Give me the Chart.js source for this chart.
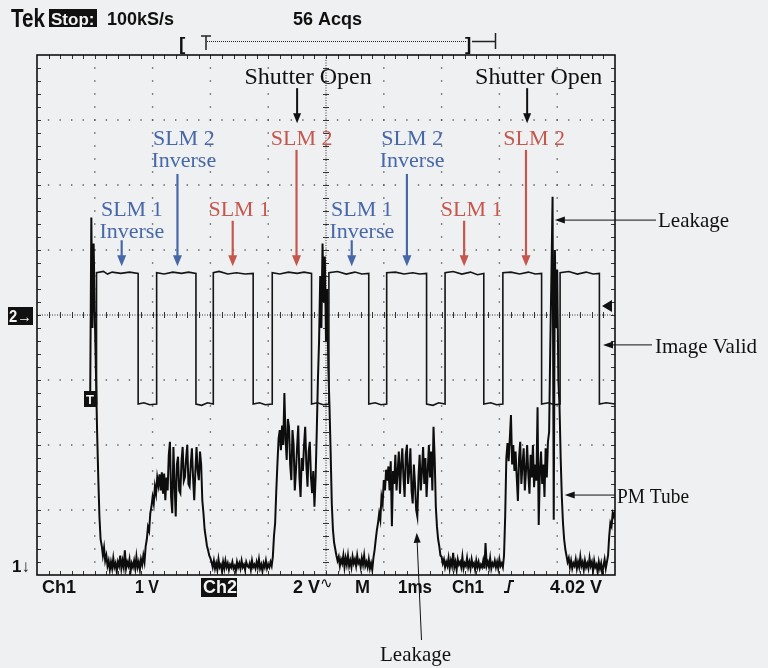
<!DOCTYPE html>
<html>
<head>
<meta charset="utf-8">
<title>Tek scope capture</title>
<script src="https://cdn.jsdelivr.net/npm/chart.js@4.4.0/dist/chart.umd.min.js"></script>
<style>
  html, body { margin: 0; padding: 0; background: #eff0f2; }
  canvas { display: block; }
</style>
</head>
<body>
<canvas id="scope" width="768" height="668"></canvas>
<script>
// 1 ms/div, 10 div across, 8 div high. Traces are kept in screen divisions.
const HI = 4.65, LO = 2.63;

// Ch2 : "Image Valid" square wave  [ms, div]
const imageValid = [
  [0.92, LO],
  [1.03, LO], [1.03, HI], [1.15, 4.67], [1.22, 4.63], [1.30, 4.66], [1.45, 4.64], [1.60, 4.66], [1.75, 4.64],
  [1.75, LO], [1.85, 2.65], [1.95, 2.62], [2.07, LO],
  [2.07, HI], [2.20, 4.63], [2.35, 4.66], [2.50, 4.64], [2.62, 4.66], [2.75, 4.64],
  [2.75, LO], [2.85, 2.61], [2.95, 2.65], [3.05, LO],
  [3.05, HI], [3.15, 4.67], [3.30, 4.63], [3.45, 4.65], [3.60, 4.63], [3.74, 4.64],
  [3.74, LO], [3.85, 2.65], [3.95, 2.62], [4.07, LO],
  [4.07, HI], [4.20, 4.63], [4.35, 4.66], [4.50, 4.64], [4.62, 4.66], [4.75, 4.64],
  [4.75, LO], [4.85, 2.65], [4.95, 2.62], [5.05, LO],
  [5.05, HI], [5.20, 4.67], [5.35, 4.63], [5.50, 4.66], [5.62, 4.63], [5.74, 4.64],
  [5.74, LO], [5.85, 2.65], [5.95, 2.62], [6.05, LO],
  [6.05, HI], [6.20, 4.66], [6.35, 4.63], [6.50, 4.65], [6.62, 4.63], [6.74, 4.64],
  [6.74, LO], [6.85, 2.61], [6.95, 2.65], [7.06, LO],
  [7.06, HI], [7.20, 4.67], [7.35, 4.63], [7.50, 4.66], [7.62, 4.62], [7.73, 4.64],
  [7.73, LO], [7.85, 2.65], [7.95, 2.62], [8.06, LO],
  [8.06, HI], [8.20, 4.66], [8.35, 4.63], [8.50, 4.66], [8.62, 4.63], [8.73, 4.64],
  [8.73, LO], [8.85, 2.65], [8.95, 2.62], [9.05, LO],
  [9.05, HI], [9.20, 4.67], [9.35, 4.63], [9.50, 4.66], [9.62, 4.63], [9.73, 4.64],
  [9.73, LO], [9.85, 2.65], [10.0, LO]
];

// Ch1 : PM tube, one sample every 20 us; each row = [start ms, samples]
const SAMPLE_MS = 0.02;
const pmTube = [
  [0.92, [2.7, 5.5, 3.8, 5.1, 4.0, 3.1, 2.2, 1.5, 0.9, 0.55]],
  [1.12, [0.45, 0.3, 0.42, 0.22, 0.3, 0.14, 0.22, 0.08, 0.2, 0.1]],
  [1.32, [0.26, 0.12, 0.18, 0.05, 0.2, 0.14, 0.3, 0.1, 0.22, 0.12]],
  [1.52, [0.38, 0.1, 0.2, 0.14, 0.24, 0.06, 0.18, 0.12, 0.22, 0.1]],
  [1.72, [0.28, 0.12, 0.2, 0.08, 0.24, 0.16, 0.3, 0.2, 0.44, 0.55]],
  [1.92, [0.74, 0.68, 0.95, 1.05, 1.2, 1.1, 1.36, 1.25, 1.5, 1.38]],
  [2.12, [1.55, 1.3, 1.58, 1.25, 1.56, 1.15, 1.5, 1.3, 1.85, 2.05]],
  [2.32, [1.2, 0.95, 1.97, 1.4, 0.9, 1.7, 1.82, 1.3, 1.26, 1.75]],
  [2.52, [1.97, 1.45, 1.51, 1.8, 2.0, 1.4, 1.36, 1.7, 1.95, 1.5]],
  [2.72, [1.15, 1.6, 1.97, 1.6, 1.46, 1.9, 1.7, 1.15, 0.95, 0.7]],
  [2.92, [0.58, 0.45, 0.38, 0.3, 0.26, 0.2, 0.12, 0.22, 0.1, 0.18]],
  [3.12, [0.08, 0.24, 0.12, 0.16, 0.06, 0.2, 0.1, 0.22, 0.12, 0.18]],
  [3.32, [0.08, 0.16, 0.12, 0.2, 0.1, 0.14, 0.06, 0.2, 0.12, 0.18]],
  [3.52, [0.1, 0.22, 0.12, 0.16, 0.08, 0.2, 0.14, 0.12, 0.18, 0.08]],
  [3.72, [0.22, 0.12, 0.16, 0.1, 0.2, 0.12, 0.24, 0.1, 0.16, 0.06]],
  [3.92, [0.18, 0.12, 0.22, 0.1, 0.16, 0.12, 0.2, 0.14, 0.28, 0.6]],
  [4.12, [0.8, 1.3, 1.72, 2.1, 2.23, 1.92, 2.3, 2.0, 2.8, 2.1]],
  [4.32, [1.77, 2.4, 2.28, 1.7, 1.46, 2.23, 2.0, 1.3, 1.6, 1.97]],
  [4.52, [2.3, 1.5, 1.2, 1.8, 1.6, 2.0, 2.28, 1.7, 1.36, 1.9]],
  [4.72, [2.05, 1.5, 1.26, 1.6, 1.05, 1.5, 2.2, 3.0, 3.6, 4.6]],
  [4.92, [3.8, 5.1, 4.2, 4.9, 3.6, 4.4, 3.2, 2.6, 1.9, 1.1]],
  [5.12, [0.7, 0.5, 0.4, 0.3, 0.22, 0.28, 0.14, 0.24, 0.18, 0.3]],
  [5.32, [0.12, 0.26, 0.16, 0.3, 0.14, 0.22, 0.12, 0.28, 0.18, 0.24]],
  [5.52, [0.14, 0.3, 0.18, 0.22, 0.12, 0.26, 0.16, 0.3, 0.14, 0.2]],
  [5.72, [0.12, 0.24, 0.1, 0.18, 0.08, 0.26, 0.38, 0.54, 0.69, 0.8]],
  [5.92, [0.95, 0.85, 1.2, 1.1, 1.46, 1.3, 1.62, 1.45, 1.67, 1.3]],
  [6.12, [1.75, 0.75, 1.6, 1.4, 1.85, 1.3, 1.6, 1.9, 1.25, 1.7]],
  [6.32, [1.95, 1.5, 1.2, 1.85, 2.0, 1.4, 1.6, 1.95, 1.3, 1.1]],
  [6.52, [1.7, 1.4, 1.0, 0.9, 1.5, 1.85, 1.3, 1.6, 1.97, 1.4]],
  [6.72, [1.8, 1.2, 1.6, 2.0, 1.5, 1.9, 1.3, 2.28, 1.8, 1.05]],
  [6.92, [0.74, 0.55, 0.44, 0.3, 0.28, 0.18, 0.24, 0.12, 0.2, 0.14]],
  [7.12, [0.26, 0.1, 0.22, 0.14, 0.34, 0.12, 0.2, 0.08, 0.24, 0.16]],
  [7.32, [0.2, 0.12, 0.28, 0.1, 0.18, 0.14, 0.26, 0.12, 0.2, 0.1]],
  [7.52, [0.24, 0.14, 0.18, 0.08, 0.22, 0.12, 0.2, 0.1, 0.16, 0.12]],
  [7.72, [0.22, 0.1, 0.49, 0.14, 0.2, 0.12, 0.26, 0.1, 0.18, 0.14]],
  [7.92, [0.22, 0.12, 0.2, 0.1, 0.24, 0.14, 0.18, 0.12, 0.3, 0.9]],
  [8.12, [1.8, 2.03, 1.75, 2.1, 2.46, 1.7, 2.0, 1.6, 1.9, 1.5]],
  [8.32, [1.14, 1.8, 2.05, 1.4, 1.7, 1.95, 1.3, 1.6, 2.0, 1.55]],
  [8.52, [1.25, 1.85, 1.5, 2.0, 1.35, 1.7, 1.45, 2.58, 0.77, 1.6]],
  [8.72, [1.9, 1.4, 1.7, 1.2, 1.95, 1.5, 2.05, 2.2, 3.5, 4.6]],
  [8.92, [5.82, 0.85, 5.0, 3.8, 4.7, 3.0, 2.6, 1.8, 1.2, 0.8]],
  [9.12, [0.55, 0.4, 0.3, 0.2, 0.26, 0.12, 0.22, 0.1, 0.18, 0.14]],
  [9.32, [0.24, 0.1, 0.2, 0.12, 0.28, 0.14, 0.2, 0.08, 0.22, 0.12]],
  [9.52, [0.18, 0.1, 0.26, 0.14, 0.2, 0.06, 0.22, 0.12, 0.16, 0.04]],
  [9.72, [0.2, 0.1, 0.18, 0.02, 0.14, 0.24, 0.1, 0.2, 0.3, 0.6]],
  [9.92, [0.8, 0.75, 0.95, 0.9, 1.0]]
];

// colour callouts  [text lines, colour, label centre ms, arrow ms, arrow top div, first baseline div]
const BLUE = '#4768a8', RED = '#c5574d';
const callouts = [
  [['SLM 1', 'Inverse'], BLUE, 1.64, 1.465, 5.15, 5.52],
  [['SLM 2', 'Inverse'], BLUE, 2.54, 2.43, 6.17, 6.62],
  [['SLM 1'], RED, 3.50, 3.386, 5.45, 5.52],
  [['SLM 2'], RED, 4.58, 4.49, 6.54, 6.62],
  [['SLM 1', 'Inverse'], BLUE, 5.62, 5.445, 5.15, 5.52],
  [['SLM 2', 'Inverse'], BLUE, 6.49, 6.40, 6.17, 6.62],
  [['SLM 1'], RED, 7.52, 7.39, 5.45, 5.52],
  [['SLM 2'], RED, 8.60, 8.46, 6.54, 6.62]
];
const shutterOpen = [[4.69, 4.50], [8.68, 8.48]];

const SERIF = '"Liberation Serif", "Times New Roman", serif';
const SANS = '"Liberation Sans", Arial, sans-serif';

function toPoints(pairs) {
  return pairs.map(function(p) { return {x: p[0], y: p[1]}; });
}
var pmPoints = [];
pmTube.forEach(function(row) {
  row[1].forEach(function(v, i) {
    pmPoints.push({x: +(row[0] + i * SAMPLE_MS).toFixed(2), y: v});
  });
});

function arrow(ctx, x1, y1, x2, y2, color, lw, len, half) {
  var ang = Math.atan2(y2 - y1, x2 - x1);
  ctx.strokeStyle = color;
  ctx.fillStyle = color;
  ctx.lineWidth = lw;
  ctx.beginPath();
  ctx.moveTo(x1, y1);
  ctx.lineTo(x2 - Math.cos(ang) * len * 0.6, y2 - Math.sin(ang) * len * 0.6);
  ctx.stroke();
  ctx.beginPath();
  ctx.moveTo(x2, y2);
  ctx.lineTo(x2 - Math.cos(ang) * len - Math.sin(ang) * half, y2 - Math.sin(ang) * len + Math.cos(ang) * half);
  ctx.lineTo(x2 - Math.cos(ang) * len + Math.sin(ang) * half, y2 - Math.sin(ang) * len - Math.cos(ang) * half);
  ctx.closePath();
  ctx.fill();
}

function boxText(ctx, txt, x, y, w, h, font, tx, ty) {
  ctx.fillStyle = '#111';
  ctx.fillRect(x, y, w, h);
  ctx.fillStyle = '#f4f4f4';
  ctx.font = font;
  ctx.fillText(txt, tx, ty, w - 2);
}

// scope graticule: dotted divisions, ticked centre axes, ticked frame
const graticule = {
  id: 'graticule',
  beforeDatasetsDraw(chart) {
    const ctx = chart.ctx, a = chart.chartArea;
    const sx = chart.scales.x, sy = chart.scales.y;
    ctx.save();
    ctx.fillStyle = '#555';
    for (let i = 1; i < 10; i++) {
      if (i === 5) continue;
      const px = sx.getPixelForValue(i);
      for (let j = 1; j < 40; j++) {
        ctx.fillRect(px - 0.7, sy.getPixelForValue(j * 0.2) - 0.7, 1.4, 1.4);
      }
    }
    for (let j = 1; j < 8; j++) {
      if (j === 4) continue;
      const py = sy.getPixelForValue(j);
      for (let i = 1; i < 50; i++) {
        ctx.fillRect(sx.getPixelForValue(i * 0.2) - 0.7, py - 0.7, 1.4, 1.4);
      }
    }
    // centre axes
    const cx = sx.getPixelForValue(5), cy = sy.getPixelForValue(4);
    ctx.strokeStyle = '#333';
    ctx.lineWidth = 1;
    ctx.setLineDash([1, 1.5]);
    ctx.beginPath();
    ctx.moveTo(a.left, cy); ctx.lineTo(a.right, cy);
    ctx.moveTo(cx, a.top); ctx.lineTo(cx, a.bottom);
    ctx.stroke();
    ctx.setLineDash([]);
    ctx.beginPath();
    for (let i = 1; i < 50; i++) {
      const px = Math.round(sx.getPixelForValue(i * 0.2)) + 0.5;
      ctx.moveTo(px, cy - 3); ctx.lineTo(px, cy + 3);
    }
    for (let j = 1; j < 40; j++) {
      const py = Math.round(sy.getPixelForValue(j * 0.2)) + 0.5;
      ctx.moveTo(cx - 3, py); ctx.lineTo(cx + 3, py);
    }
    // frame ticks
    for (let i = 1; i < 50; i++) {
      const px = Math.round(sx.getPixelForValue(i * 0.2)) + 0.5;
      ctx.moveTo(px, a.top); ctx.lineTo(px, a.top + 4);
      ctx.moveTo(px, a.bottom); ctx.lineTo(px, a.bottom - 4);
    }
    for (let j = 1; j < 40; j++) {
      const py = Math.round(sy.getPixelForValue(j * 0.2)) + 0.5;
      ctx.moveTo(a.left, py); ctx.lineTo(a.left + 4, py);
      ctx.moveTo(a.right, py); ctx.lineTo(a.right - 4, py);
    }
    ctx.stroke();
    ctx.strokeStyle = '#111';
    ctx.lineWidth = 1.6;
    ctx.strokeRect(a.left, a.top, a.right - a.left, a.bottom - a.top);
    ctx.restore();
  }
};

// readouts around the screen and the hand-drawn callouts
const readouts = {
  id: 'readouts',
  afterDatasetsDraw(chart) {
    const ctx = chart.ctx;
    const sx = chart.scales.x, sy = chart.scales.y;
    const X = function(v) { return sx.getPixelForValue(v); };
    const Y = function(v) { return sy.getPixelForValue(v); };
    ctx.save();
    ctx.textBaseline = 'alphabetic';

    // top status line
    ctx.fillStyle = '#111';
    ctx.font = 'bold 25px ' + SANS;
    ctx.fillText('Tek', 11, 27, 34);
    boxText(ctx, 'Stop:', 49, 9, 48, 18, 'bold 17px ' + SANS, 51, 25);
    ctx.fillStyle = '#111';
    ctx.font = 'bold 18px ' + SANS;
    ctx.fillText('100kS/s', 107, 25, 75);
    ctx.fillText('56 Acqs', 293, 25, 70);

    // record window bar
    ctx.font = 'bold 19px ' + SANS;
    ctx.fillText('[', 179, 50);
    ctx.fillText(']', 465, 50);
    ctx.strokeStyle = '#222';
    ctx.lineWidth = 1.5;
    ctx.beginPath();
    ctx.moveTo(201, 36); ctx.lineTo(211, 36);
    ctx.moveTo(206, 36); ctx.lineTo(206, 50);
    ctx.moveTo(472, 41.5); ctx.lineTo(495, 41.5);
    ctx.moveTo(495.5, 33); ctx.lineTo(495.5, 49);
    ctx.stroke();
    ctx.lineWidth = 1;
    ctx.setLineDash([1, 1]);
    ctx.beginPath();
    ctx.moveTo(207, 41.5); ctx.lineTo(466, 41.5);
    ctx.stroke();
    ctx.setLineDash([]);

    // channel markers on the left
    boxText(ctx, '2\u2192', 8, 307, 25, 18, 'bold 16px ' + SANS, 9, 322);
    boxText(ctx, 'T', 84, 391, 13, 16, 'bold 13px ' + SANS, 86, 404);
    ctx.fillStyle = '#111';
    ctx.font = 'bold 17px ' + SANS;
    ctx.fillText('1\u2193', 12, 572);

    // trigger level marker on the right edge
    ctx.beginPath();
    ctx.moveTo(602, 306); ctx.lineTo(612, 300); ctx.lineTo(612, 312);
    ctx.closePath();
    ctx.fill();

    // bottom readout
    ctx.font = 'bold 18px ' + SANS;
    ctx.fillText('Ch1', 42, 593, 34);
    ctx.fillText('1 V', 135, 593, 24);
    boxText(ctx, 'Ch2', 201, 578, 36, 19, 'bold 18px ' + SANS, 203, 593);
    ctx.fillStyle = '#111';
    ctx.font = 'bold 18px ' + SANS;
    ctx.fillText('2 V', 293, 593, 28);
    ctx.fillText('M', 355, 593, 16);
    ctx.fillText('1ms', 398, 593, 34);
    ctx.fillText('Ch1', 452, 593, 32);
    ctx.fillText('4.02 V', 550, 593, 60);
    ctx.font = '15px "DejaVu Sans", sans-serif';
    ctx.fillText('\u223F', 320, 588);
    ctx.strokeStyle = '#111';
    ctx.lineWidth = 2;
    ctx.beginPath();
    ctx.moveTo(504, 592); ctx.lineTo(508, 592);
    ctx.lineTo(510, 581); ctx.lineTo(514, 581);
    ctx.stroke();

    // shutter callouts
    ctx.textAlign = 'center';
    ctx.font = '24px ' + SERIF;
    shutterOpen.forEach(function(s) {
      ctx.fillStyle = '#111';
      ctx.fillText('Shutter Open', X(s[0]), Y(7.55));
      arrow(ctx, X(s[1]), Y(7.49), X(s[1]), Y(6.95), '#111', 2, 10, 4);
    });

    // SLM callouts
    ctx.font = '22px ' + SERIF;
    callouts.forEach(function(c) {
      ctx.fillStyle = c[1];
      c[0].forEach(function(line, k) {
        ctx.fillText(line, X(c[2]), Y(c[5]) + k * 22);
      });
      arrow(ctx, X(c[3]), Y(c[4]), X(c[3]), Y(4.75), c[1], 2.2, 11, 4.5);
    });

    // trace labels on the right
    ctx.textAlign = 'left';
    ctx.fillStyle = '#111';
    ctx.font = '21px ' + SERIF;
    ctx.fillText('Leakage', 658, Y(5.46) + 7);
    arrow(ctx, 656, Y(5.46), X(8.96), Y(5.46), '#111', 1, 10, 3.5);
    ctx.fillStyle = '#111';
    ctx.fillText('Image Valid', 655, Y(3.54) + 8, 108);
    arrow(ctx, 652, Y(3.54), 603, Y(3.54), '#111', 1, 10, 3.5);
    ctx.fillStyle = '#111';
    ctx.fillText('PM Tube', 617, Y(1.23) + 8, 72);
    arrow(ctx, 615, Y(1.23), X(9.13), Y(1.23), '#111', 1, 10, 3.5);
    ctx.fillStyle = '#111';
    ctx.fillText('Leakage', 380, 661, 73);
    arrow(ctx, 421.5, 640, X(6.57), Y(0.65), '#111', 1, 10, 3.5);
    ctx.restore();
  }
};

new Chart(document.getElementById('scope').getContext('2d'), {
  type: 'line',
  data: {
    datasets: [
      {
        label: 'Ch2',
        data: toPoints(imageValid),
        borderColor: '#151515',
        borderWidth: 1.6,
        pointRadius: 0,
        tension: 0
      },
      {
        label: 'Ch1',
        data: pmPoints,
        borderColor: '#0d0d0d',
        borderWidth: 2,
        pointRadius: 0,
        tension: 0
      }
    ]
  },
  options: {
    responsive: false,
    animation: false,
    devicePixelRatio: 1,
    layout: { padding: { left: 37, right: 153, top: 55, bottom: 93 } },
    scales: {
      x: { type: 'linear', min: 0, max: 10, display: false },
      y: { type: 'linear', min: 0, max: 8, display: false }
    },
    plugins: {
      legend: { display: false },
      tooltip: { enabled: false }
    }
  },
  plugins: [graticule, readouts]
});
</script>
</body>
</html>
